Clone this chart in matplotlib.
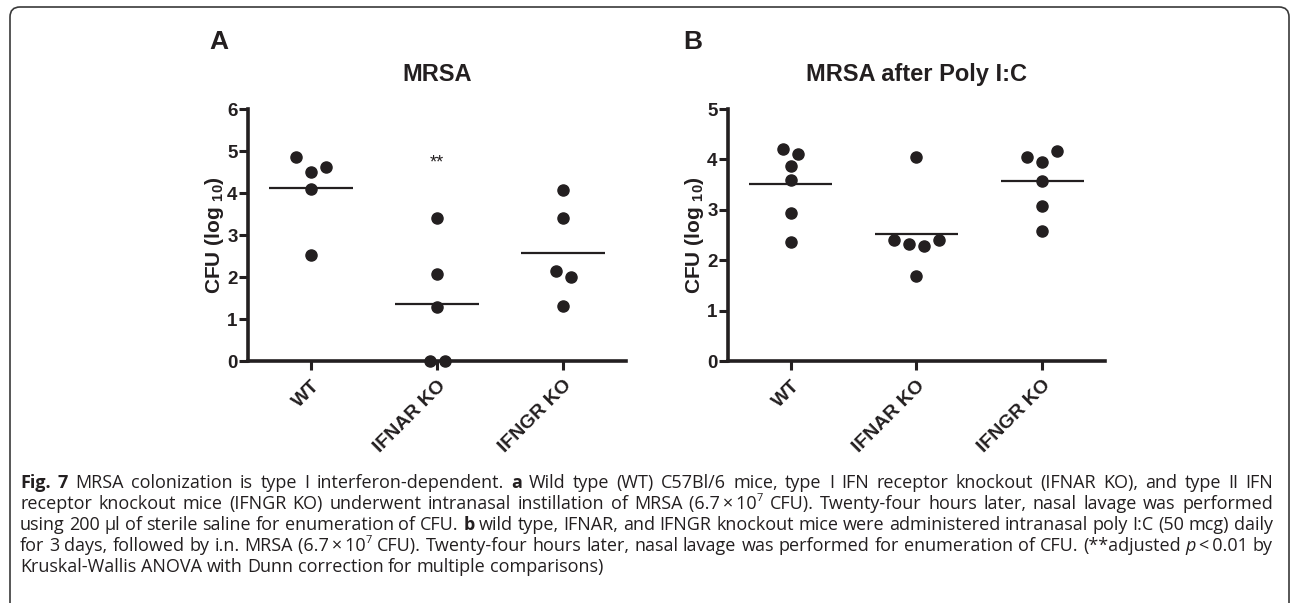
import re
import matplotlib
matplotlib.use("Agg")
import matplotlib.pyplot as plt
from matplotlib.patches import FancyBboxPatch
from matplotlib.transforms import IdentityTransform

# ---------------- data ----------------
groups = ["WT", "IFNAR KO", "IFNGR KO"]

a_title = "MRSA"
a_wt = [4.86, 4.50, 4.62, 4.10, 2.53]
a_ifnar = [3.40, 2.07, 1.29, 0.0, 0.0]
a_ifngr = [4.06, 3.40, 2.14, 2.00, 1.30]
a_yticks = [0, 1, 2, 3, 4, 5, 6]

b_title = "MRSA after Poly I:C"
b_wt = [4.20, 4.11, 3.87, 3.59, 2.94, 2.37]
b_ifnar = [4.04, 2.41, 2.33, 2.29, 2.41, 1.69]
b_ifngr = [4.04, 3.95, 4.17, 3.58, 3.08, 2.58]
b_yticks = [0, 1, 2, 3, 4, 5]

ylabel = r"CFU (log $_{10}$)"
signif_label = "**"

caption_lines = [
    "{b:Fig.} {b:7} MRSA colonization is type I interferon-dependent. {b:a} Wild type (WT) C57Bl/6 mice, type I IFN receptor knockout (IFNAR KO), and type II IFN",
    "receptor knockout mice (IFNGR KO) underwent intranasal instillation of MRSA (6.7\u2009\u00d7\u200910{s:7} CFU). Twenty-four hours later, nasal lavage was performed",
    "using 200 \u00b5l of sterile saline for enumeration of CFU. {b:b} wild type, IFNAR, and IFNGR knockout mice were administered intranasal poly I:C (50 mcg) daily",
    "for 3 days, followed by i.n. MRSA (6.7\u2009\u00d7\u200910{s:7} CFU). Twenty-four hours later, nasal lavage was performed for enumeration of CFU. (**adjusted {i:p}\u2009<\u20090.01 by",
    "Kruskal-Wallis ANOVA with Dunn correction for multiple comparisons)",
]

# ---------------- style ----------------
W, H = 1292, 603
plt.rcParams["font.family"] = ["Liberation Sans", "DejaVu Sans"]
plt.rcParams["mathtext.fontset"] = "custom"
plt.rcParams["mathtext.rm"] = "Liberation Sans:bold"
plt.rcParams["mathtext.bf"] = "Liberation Sans:bold"
plt.rcParams["mathtext.it"] = "Liberation Sans:bold"

INK = "#231f20"
fig = plt.figure(figsize=(W / 100, H / 100), dpi=100)


def px_ax(left, right, top, bottom):
    return [left / W, 1 - bottom / H, (right - left) / W, (bottom - top) / H]


def row_offsets(vals, ppu, dpx, ppx_x):
    """GraphPad-like: group close values into rows, centre each row."""
    order = sorted(range(len(vals)), key=lambda i: -vals[i])
    rows, cur = [], [order[0]]
    for prev, i in zip(order[:-1], order[1:]):
        if (vals[prev] - vals[i]) * ppu < 11:
            cur.append(i)
        else:
            rows.append(cur)
            cur = [i]
    rows.append(cur)
    offs = [0.0] * len(vals)
    for r in rows:
        r = sorted(r)
        n = len(r)
        for k, i in enumerate(r):
            offs[i] = (k - (n - 1) / 2) * dpx / ppx_x
    return offs


def panel(rect, series, yticks, title, letter, letter_x):
    ax = fig.add_axes(px_ax(*rect))
    ymax = yticks[-1]
    ax.set_xlim(-0.5, len(groups) - 0.5)
    ax.set_ylim(0, ymax)
    for s in ["top", "right"]:
        ax.spines[s].set_visible(False)
    for s in ["left", "bottom"]:
        ax.spines[s].set_linewidth(2.6)
        ax.spines[s].set_color(INK)
    ax.set_yticks(yticks)
    ax.set_xticks(range(len(groups)))
    ax.set_xticklabels(groups, rotation=45, ha="right", va="top",
                       rotation_mode="anchor", fontsize=14, fontweight="bold")
    ax.tick_params(axis="y", length=6.5, width=2.2, labelsize=13.5, pad=1,
                   color=INK, labelcolor=INK)
    ax.tick_params(axis="x", length=6.5, width=2.2, pad=5, color=INK,
                   labelcolor=INK)
    for t in ax.get_yticklabels():
        t.set_fontweight("bold")
    ax.set_ylabel(ylabel, fontsize=15, fontweight="bold", color=INK, labelpad=1)
    ax.set_title(title, fontsize=17, fontweight="bold", color=INK, pad=20)
    ppu = (rect[3] - rect[2]) / ymax
    ppx_x = (rect[1] - rect[0]) / len(groups)
    for gi, vals in enumerate(series):
        offs = row_offsets(vals, ppu, 15, ppx_x)
        ax.plot([gi + o for o in offs], vals, "o", ms=8, color=INK,
                mec=INK, clip_on=False, zorder=5)
        m = sum(vals) / len(vals)
        ax.plot([gi - 0.33, gi + 0.33], [m, m], color=INK, lw=1.6,
                solid_capstyle="butt", zorder=4)
    fig.text(letter_x, H - 49, letter, transform=IdentityTransform(),
             fontsize=19, fontweight="bold", color=INK)
    return ax


axA = panel((248, 626, 109, 361), [a_wt, a_ifnar, a_ifngr], a_yticks,
            a_title, "A", 209)
axA.text(1, 4.72, signif_label, ha="center", va="center", fontsize=13,
         color=INK)
axB = panel((728, 1105, 109, 361), [b_wt, b_ifnar, b_ifngr], b_yticks,
            b_title, "B", 683)

# ---------------- frame ----------------
frame = FancyBboxPatch((10, -40), 1279, 636, boxstyle="round,pad=0,rounding_size=10",
                       transform=IdentityTransform(), fill=False,
                       edgecolor="#3a3a3a", lw=1.2, clip_on=False)
fig.patches.append(frame)

# ---------------- caption ----------------
renderer = fig.canvas.get_renderer()
CAP_FONT = ["Open Sans", "DejaVu Sans"]
CAP_COLOR = "#231f20"
cap_size = [12.0]


def parse_word(word):
    pieces = []
    pos = 0
    for m in re.finditer(r"\{(b|i|s):([^}]*)\}", word):
        if m.start() > pos:
            pieces.append((word[pos:m.start()], "n"))
        pieces.append((m.group(2), m.group(1)))
        pos = m.end()
    if pos < len(word):
        pieces.append((word[pos:], "n"))
    return pieces


def make_text(txt, style, x, y):
    size = cap_size[0]
    kw = dict(family=CAP_FONT, fontsize=size, color=CAP_COLOR)
    if style == "b":
        kw["fontweight"] = "bold"
    elif style == "i":
        kw["fontstyle"] = "italic"
    elif style == "s":
        kw["fontsize"] = size * 0.62
        y = y + size * 0.45 * 100 / 72
    return fig.text(x, y, txt, transform=IdentityTransform(), va="baseline",
                    ha="left", **kw)


def width_of(txt, style):
    t = make_text(txt, style, 0, 0)
    w = t.get_window_extent(renderer).width
    t.remove()
    return w


x_left, x_right = 20, 1273
parsed = [[parse_word(w) for w in line.split(" ")] for line in caption_lines]


def natural_width(words):
    sw = width_of("x x", "n") - width_of("xx", "n")
    return sum(sum(width_of(t, s) for t, s in w) for w in words) + sw * (len(words) - 1)


# fit the font so that the widest justified line fills the measure naturally
widest = max(natural_width(w) for w in parsed[:-1])
cap_size[0] = cap_size[0] * (x_right - x_left - 4) / widest

space_w = width_of("x x", "n") - width_of("xx", "n")
baseline0 = H - 488
for li, words in enumerate(parsed):
    wwidths = [sum(width_of(t, s) for t, s in w) for w in words]
    natural = sum(wwidths) + space_w * (len(words) - 1)
    if li < len(parsed) - 1 and len(words) > 1:
        gap = space_w + (x_right - x_left - natural) / (len(words) - 1)
    else:
        gap = space_w
    x = x_left
    y = baseline0 - li * 21
    for w, ww in zip(words, wwidths):
        xx = x
        for t, s in w:
            make_text(t, s, xx, y)
            xx += width_of(t, s)
        x += ww + gap

fig.savefig("out.png", dpi=100)
